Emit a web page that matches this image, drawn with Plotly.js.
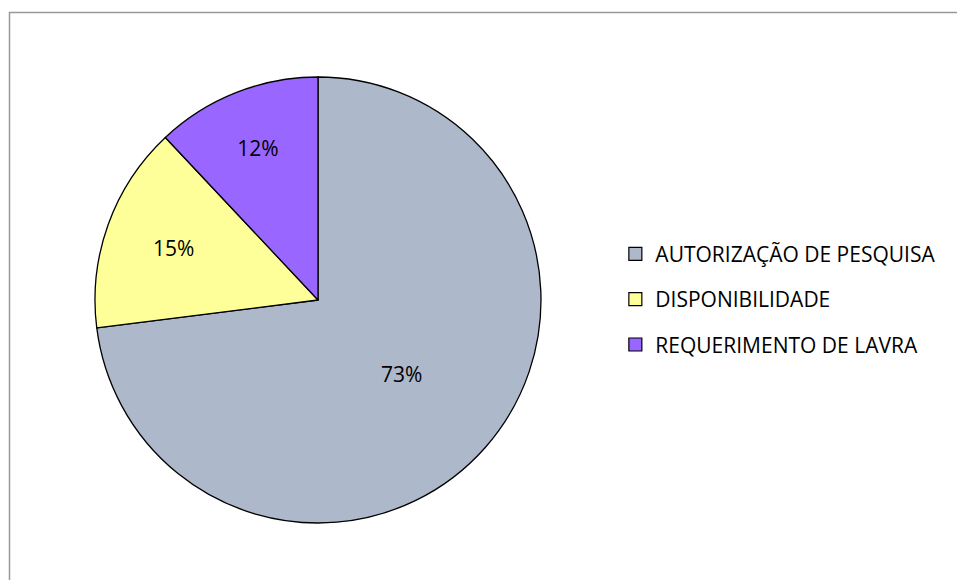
<!DOCTYPE html>
<html>
<head>
<meta charset="utf-8">
<script src="https://cdn.plot.ly/plotly-3.0.1.min.js"></script>
<style>html,body{margin:0;padding:0;background:#fff}</style>
</head>
<body>
<div id="chart" style="width:957px;height:580px"></div>
<script>
const labels = ["AUTORIZAÇÃO DE PESQUISA", "DISPONIBILIDADE", "REQUERIMENTO DE LAVRA"];
const values = [73, 15, 12];
const colors = ["#ADB8CA", "#FFFF99", "#9966FF"];

const FONT = "'Open Sans', Lato, sans-serif";

const pie = {
  type: "pie",
  labels: labels,
  values: values,
  sort: false,
  direction: "clockwise",
  rotation: 0,
  marker: {colors: colors, line: {color: "#000", width: 1.3}},
  textinfo: "percent",
  texttemplate: "%{percent:.0%}",
  textposition: "inside",
  insidetextorientation: "horizontal",
  textfont: {family: FONT, size: 21, color: "#000"},
  domain: {x: [95/957, 541/957], y: [1 - 523/580, 1 - 77/580]},
  showlegend: false,
  hoverinfo: "label+percent"
};

// legend entries (one per category) through the library's own legend
const legendTraces = labels.map((l, i) => ({
  type: "scatter",
  x: [null], y: [null],
  mode: "markers",
  name: l,
  legendgroup: "g" + i,
  marker: {symbol: "square", size: 13, color: colors[i], line: {color: "#000", width: 1.2}},
  xaxis: "x", yaxis: "y",
  showlegend: true,
  hoverinfo: "skip"
}));

const layout = {
  width: 957, height: 580,
  margin: {l: 0, r: 0, t: 0, b: 0},
  paper_bgcolor: "#fff",
  plot_bgcolor: "rgba(0,0,0,0)",
  font: {family: FONT, color: "#000"},
  xaxis: {visible: false, domain: [0.9, 1]},
  yaxis: {visible: false, domain: [0.9, 1]},
  showlegend: true,
  legend: {
    x: 0.643, y: 0.597, xanchor: "left", yanchor: "top",
    font: {family: FONT, size: 21, color: "#000"},
    tracegroupgap: 15,
    itemwidth: 30,
    bgcolor: "rgba(0,0,0,0)"
  },
  shapes: [
    {type: "rect", xref: "paper", yref: "paper",
     x0: 9.5/957, x1: 1.05, y0: -0.05, y1: 1 - 12.5/580,
     line: {color: "#999999", width: 1.5}, fillcolor: "rgba(0,0,0,0)", layer: "below"}
  ]
};

Plotly.newPlot("chart", [pie].concat(legendTraces), layout, {displayModeBar: false, staticPlot: true});
</script>
</body>
</html>
